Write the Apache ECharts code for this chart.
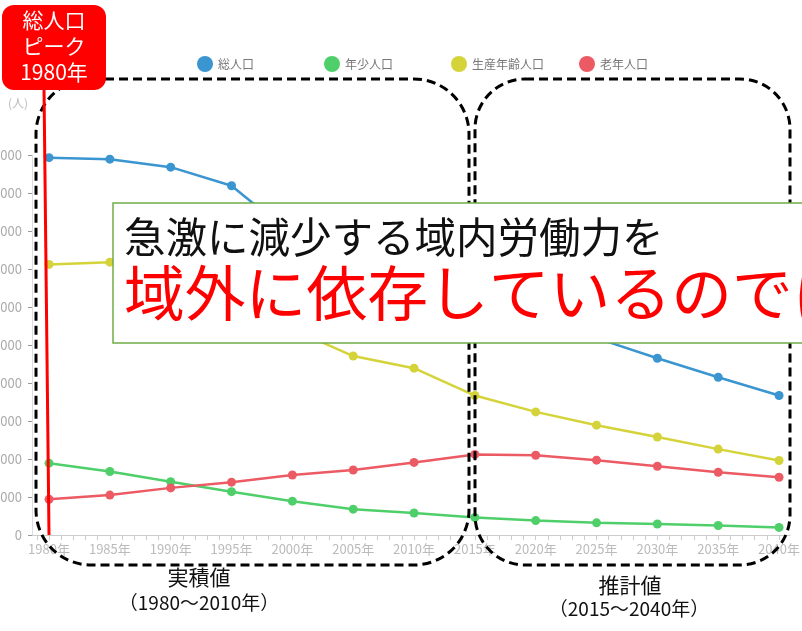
<!DOCTYPE html>
<html>
<head>
<meta charset="utf-8">
<script src="https://cdn.jsdelivr.net/npm/echarts@6/dist/echarts.min.js"></script>
<style>
html,body{margin:0;padding:0;background:#fff;}
#main{width:802px;height:631px;}
</style>
</head>
<body>
<div id="main"></div>
<script>
// ---- data ----
const years = [1980,1985,1990,1995,2000,2005,2010,2015,2020,2025,2030,2035,2040];
const totalPop   = [99300,98900,96800,91900,78900,71000,68800,62500,57200,51800,46500,41500,36700];
const youngPop   = [18900,16700,14000,11400,8900,6800,5800,4600,3800,3200,2900,2500,2000];
const workingPop = [71200,71800,70400,66600,54200,47100,43900,36700,32400,28900,25800,22600,19600];
const elderPop   = [9400,10500,12400,13900,15800,17100,19100,21200,21000,19700,18100,16500,15200];
const seriesNames = ['総人口','年少人口','生産年齢人口','老年人口'];
const xTickYears = [1979,1980,1981,1982,1983,1984,1985,1986,1987,1988,1989,1990,1991,1992,1993,1994,1995,1996,1997,1998,1999,2000,2001,2002,2003,2004,2005,2006,2007,2008,2009,2010,2011,2012,2013,2014,2015,2016,2017,2018,2019,2020,2021,2022,2023,2024,2025,2026,2027,2028,2029,2030,2031,2032,2033,2034,2035,2036,2037,2038,2039,2040];
const yMax = 100000;
const yStep = 10000;

const colors = ['#3a95d0','#4fcf6a','#d4d33a','#ec5a64'];
const values = [totalPop, youngPop, workingPop, elderPop];

const chart = echarts.init(document.getElementById('main'), null, {renderer:'canvas'});
const FONT = '"Noto Sans CJK JP", "Noto Sans", sans-serif';

const legendLefts = [197, 324, 451, 579];

const option = {
  backgroundColor: '#fff',
  animation: false,
  textStyle: {fontFamily: FONT},
  legend: seriesNames.map((n, i) => ({
    data: [n], left: legendLefts[i], top: 56, padding: 0,
    icon: 'circle', itemWidth: 16, itemHeight: 16, itemGap: 0,
    textStyle: {color: '#777', fontSize: 12, fontFamily: FONT}
  })),
  grid: {left: 32, right: 12, top: 155, bottom: 96, containLabel: false, outerBoundsMode: 'none'},
  xAxis: {
    type: 'value', min: 1978.6, max: 2040.9,
    axisLine: {show: true, lineStyle: {color: '#ccc', width: 1}},
    axisTick: {show: true, customValues: xTickYears, length: 5, lineStyle: {color: '#ccc'}},
    axisLabel: {customValues: years, formatter: v => v + '年', color: '#bbb', fontSize: 13, margin: 8, fontFamily: FONT},
    splitLine: {show: false}
  },
  yAxis: {
    type: 'value', min: 0, max: yMax, interval: yStep,
    axisLine: {show: true, lineStyle: {color: '#ddd'}},
    axisTick: {show: true, length: 4, lineStyle: {color: '#999'}},
    axisLabel: {color: '#aaa', fontSize: 13, margin: 10, fontFamily: FONT, formatter: v => String(v)},
    splitLine: {show: false}
  },
  series: seriesNames.map((n, i) => ({
    name: n, type: 'line', symbol: 'circle', symbolSize: 9,
    itemStyle: {color: colors[i]},
    lineStyle: {color: colors[i], width: 2.5},
    data: years.map((y, j) => [y, values[i][j]])
  })),
  graphic: [
    // dashed rounded rects
    {type: 'rect', z: 100, shape: {x: 36, y: 79, width: 433, height: 486, r: 55},
     style: {fill: 'none', stroke: '#000', lineWidth: 3, lineDash: [9, 5]}},
    {type: 'rect', z: 100, shape: {x: 475, y: 79, width: 315, height: 486, r: 50},
     style: {fill: 'none', stroke: '#000', lineWidth: 3, lineDash: [9, 5]}},
    // red peak line
    {type: 'line', z: 101, shape: {x1: 44, y1: 88, x2: 49, y2: 535},
     style: {stroke: '#ff0000', lineWidth: 3}},
    // red callout box
    {type: 'rect', z: 102, shape: {x: 2, y: 5, width: 104, height: 85, r: 12},
     style: {fill: '#ff0000'}},
    {type: 'text', z: 103, style: {text: '総人口', x: 54, y: 20, fill: '#fff', font: '21px ' + FONT, align: 'center', verticalAlign: 'middle'}},
    {type: 'text', z: 103, style: {text: 'ピーク', x: 54, y: 46, fill: '#fff', font: '21px ' + FONT, align: 'center', verticalAlign: 'middle'}},
    {type: 'text', z: 103, style: {text: '1980年', x: 54, y: 72, fill: '#fff', font: '21px ' + FONT, align: 'center', verticalAlign: 'middle'}},
    // unit
    {type: 'text', z: 50, style: {text: '(人)', x: 18, y: 103, fill: '#bbb', font: '12px ' + FONT, align: 'center', verticalAlign: 'middle'}},
    // message box
    {type: 'rect', z: 110, shape: {x: 113, y: 203, width: 700, height: 140},
     style: {fill: '#fff', stroke: '#70ad47', lineWidth: 1.5}},
    {type: 'text', z: 111, style: {text: '急激に減少する域内労働力を', x: 124, y: 237, fill: '#111', font: '41.5px ' + FONT, align: 'left', verticalAlign: 'middle'}},
    {type: 'text', z: 111, style: {text: '域外に依存しているのではないか', x: 124, y: 293, fill: '#ff0000', font: '60.8px ' + FONT, align: 'left', verticalAlign: 'middle'}},
    // period labels
    {type: 'text', z: 50, style: {text: '実積値', x: 199, y: 577, fill: '#111', font: '21px ' + FONT, align: 'center', verticalAlign: 'middle'}},
    {type: 'text', z: 50, style: {text: '（1980～2010年）', x: 199, y: 603, fill: '#111', font: '19px ' + FONT, align: 'center', verticalAlign: 'middle'}},
    {type: 'text', z: 50, style: {text: '推計値', x: 630, y: 585, fill: '#111', font: '21px ' + FONT, align: 'center', verticalAlign: 'middle'}},
    {type: 'text', z: 50, style: {text: '（2015～2040年）', x: 629, y: 609, fill: '#111', font: '19px ' + FONT, align: 'center', verticalAlign: 'middle'}}
  ]
};
chart.setOption(option);
</script>
</body>
</html>
